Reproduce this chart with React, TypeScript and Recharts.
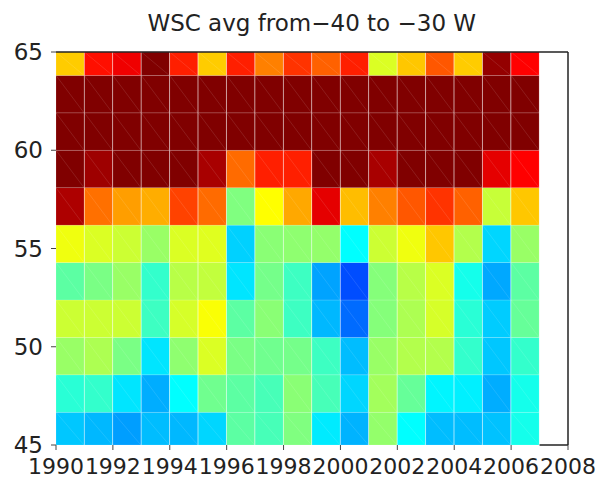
import { BarChart, Bar, XAxis, YAxis, ReferenceLine } from 'recharts';

// one column per year, cells span [year, year + 1)
const years = [1990, 1991, 1992, 1993, 1994, 1995, 1996, 1997, 1998, 1999, 2000, 2001, 2002, 2003, 2004, 2005, 2006];
// latitude band edges (gaussian grid, clipped to 45..65)
const latEdges = [45, 46.666, 48.571, 50.475, 52.38, 54.285, 56.189, 58.094, 59.999, 61.903, 63.808, 65];
const xTicks = [1990, 1992, 1994, 1996, 1998, 2000, 2002, 2004, 2006, 2008];
const yTicks = [45, 50, 55, 60, 65];

// normalised WSC per band (0 = dark blue, 1 = dark red), bottom to top
const band45 = [0.32, 0.305, 0.28, 0.31, 0.305, 0.335, 0.465, 0.445, 0.5, 0.355, 0.3, 0.52, 0.375, 0.31, 0.31, 0.315, 0.395];
const band47 = [0.415, 0.425, 0.35, 0.295, 0.375, 0.485, 0.465, 0.445, 0.51, 0.445, 0.335, 0.535, 0.475, 0.365, 0.36, 0.295, 0.395];
const band49 = [0.525, 0.545, 0.495, 0.35, 0.515, 0.59, 0.495, 0.485, 0.49, 0.435, 0.31, 0.525, 0.55, 0.55, 0.425, 0.32, 0.425];
const band50 = [0.575, 0.575, 0.575, 0.435, 0.585, 0.62, 0.465, 0.51, 0.435, 0.305, 0.23, 0.505, 0.545, 0.585, 0.415, 0.325, 0.475];
const band52 = [0.465, 0.495, 0.525, 0.425, 0.555, 0.565, 0.35, 0.49, 0.435, 0.285, 0.2, 0.505, 0.555, 0.59, 0.395, 0.29, 0.465];
const band54 = [0.61, 0.59, 0.575, 0.525, 0.59, 0.595, 0.33, 0.51, 0.515, 0.52, 0.375, 0.575, 0.61, 0.68, 0.55, 0.335, 0.525];
const band56 = [0.955, 0.765, 0.72, 0.705, 0.81, 0.77, 0.5, 0.625, 0.71, 0.9, 0.69, 0.75, 0.79, 0.825, 0.78, 0.57, 0.68];
const band58 = [1, 0.97, 1, 1, 1, 0.96, 0.77, 0.845, 0.845, 1, 1, 0.96, 1, 1, 1, 0.9, 0.875];
const band60 = [1, 1, 1, 1, 1, 1, 1, 1, 1, 1, 1, 1, 1, 1, 1, 1, 1];
const band62 = [1, 1, 1, 1, 1, 1, 1, 1, 1, 1, 1, 1, 1, 1, 1, 1, 1];
const band64 = [0.675, 0.86, 0.89, 1, 0.845, 0.675, 0.845, 0.75, 0.825, 0.78, 0.845, 0.59, 0.68, 0.79, 0.675, 0.98, 0.875];

const bands = [band45, band47, band49, band50, band52, band54, band56, band58, band60, band62, band64];

// matlab jet colormap
function jet(v: number) {
  const c = (t: number) => Math.round(255 * Math.max(0, Math.min(1, t)));
  const r = c(Math.min(4 * v - 1.5, -4 * v + 4.5));
  const g = c(Math.min(4 * v - 0.5, -4 * v + 3.5));
  const b = c(Math.min(4 * v + 0.5, -4 * v + 2.5));
  return `rgb(${r},${g},${b})`;
}

const table = years.map((yr, i) => {
  const row: Record<string, number> = { year: yr + 0.5, base: latEdges[0] };
  bands.forEach((band, b) => {
    row[`h${b}`] = latEdges[b + 1] - latEdges[b];
    row[`v${b}`] = band[i];
  });
  return row;
});

const FONT = '"DejaVu Sans", sans-serif';
const yTickStyle = { fontSize: 23, fill: '#222', fontFamily: FONT };
const xTickStyle = { fontSize: 22, fill: '#222', fontFamily: FONT };

function tile(b: number) {
  return (p: any) => {
    const { x, y, width, height, payload } = p;
    if (width == null || height == null) return <g />;
    return (
      <g>
        <rect x={x} y={y} width={width} height={height} fill={jet(payload[`v${b}`])}
          stroke="rgba(255,255,255,0.2)" strokeWidth={0.7} />
        <line x1={x} y1={y} x2={x + width} y2={y + height} stroke="rgba(255,255,255,0.16)" strokeWidth={0.7} />
      </g>
    );
  };
}

export default function App() {
  return (
    <div style={{ position: 'absolute', left: 0, top: 0, width: 602, height: 486, background: '#fff' }}>
      <svg width={602} height={40} style={{ position: 'absolute', left: 0, top: 0 }}>
        <text x={311.75} y={31} textAnchor="middle" fontSize={23} fontFamily={FONT} fill="#222">
          WSC avg from−40 to −30 W
        </text>
      </svg>
      <BarChart
        width={602}
        height={486}
        data={table}
        margin={{ top: 0, right: 0, bottom: 0, left: 0 }}
        barCategoryGap={0}
        barGap={0}
      >
        <XAxis
          dataKey="year"
          type="number"
          domain={[1990, 2008]}
          ticks={xTicks}
          interval={0}
          height={41}
          axisLine={false}
          tickLine={{ stroke: '#444' }}
          tickSize={5}
          tickMargin={8}
          tick={xTickStyle}
        />
        <XAxis
          xAxisId="top"
          orientation="top"
          type="number"
          domain={[1990, 2008]}
          ticks={xTicks}
          interval={0}
          height={52}
          axisLine={{ stroke: '#222', strokeWidth: 1.5 }}
          tickLine={{ stroke: '#444' }}
          tickSize={4}
          tickFormatter={() => ''}
        />
        <YAxis
          type="number"
          domain={[45, 65]}
          allowDataOverflow
          ticks={yTicks}
          interval={0}
          width={56}
          axisLine={false}
          tickLine={{ stroke: '#444' }}
          tickSize={5}
          tickMargin={8}
          tick={yTickStyle}
        />
        <YAxis
          yAxisId="right"
          orientation="right"
          type="number"
          domain={[45, 65]}
          ticks={yTicks}
          interval={0}
          width={34}
          axisLine={{ stroke: '#222', strokeWidth: 1.5 }}
          tickLine={{ stroke: '#444' }}
          tickSize={4}
          tickFormatter={() => ''}
        />
        <Bar dataKey="base" stackId="cells" fill="none" isAnimationActive={false} />
        {bands.map((_, b) => (
          <Bar key={b} dataKey={`h${b}`} stackId="cells" isAnimationActive={false} shape={tile(b)} />
        ))}
        <ReferenceLine
          segment={[{ x: years[years.length - 1] + 1, y: 45 }, { x: 2008, y: 45 }]}
          stroke="#222"
          strokeWidth={1.5}
        />
      </BarChart>
    </div>
  );
}
